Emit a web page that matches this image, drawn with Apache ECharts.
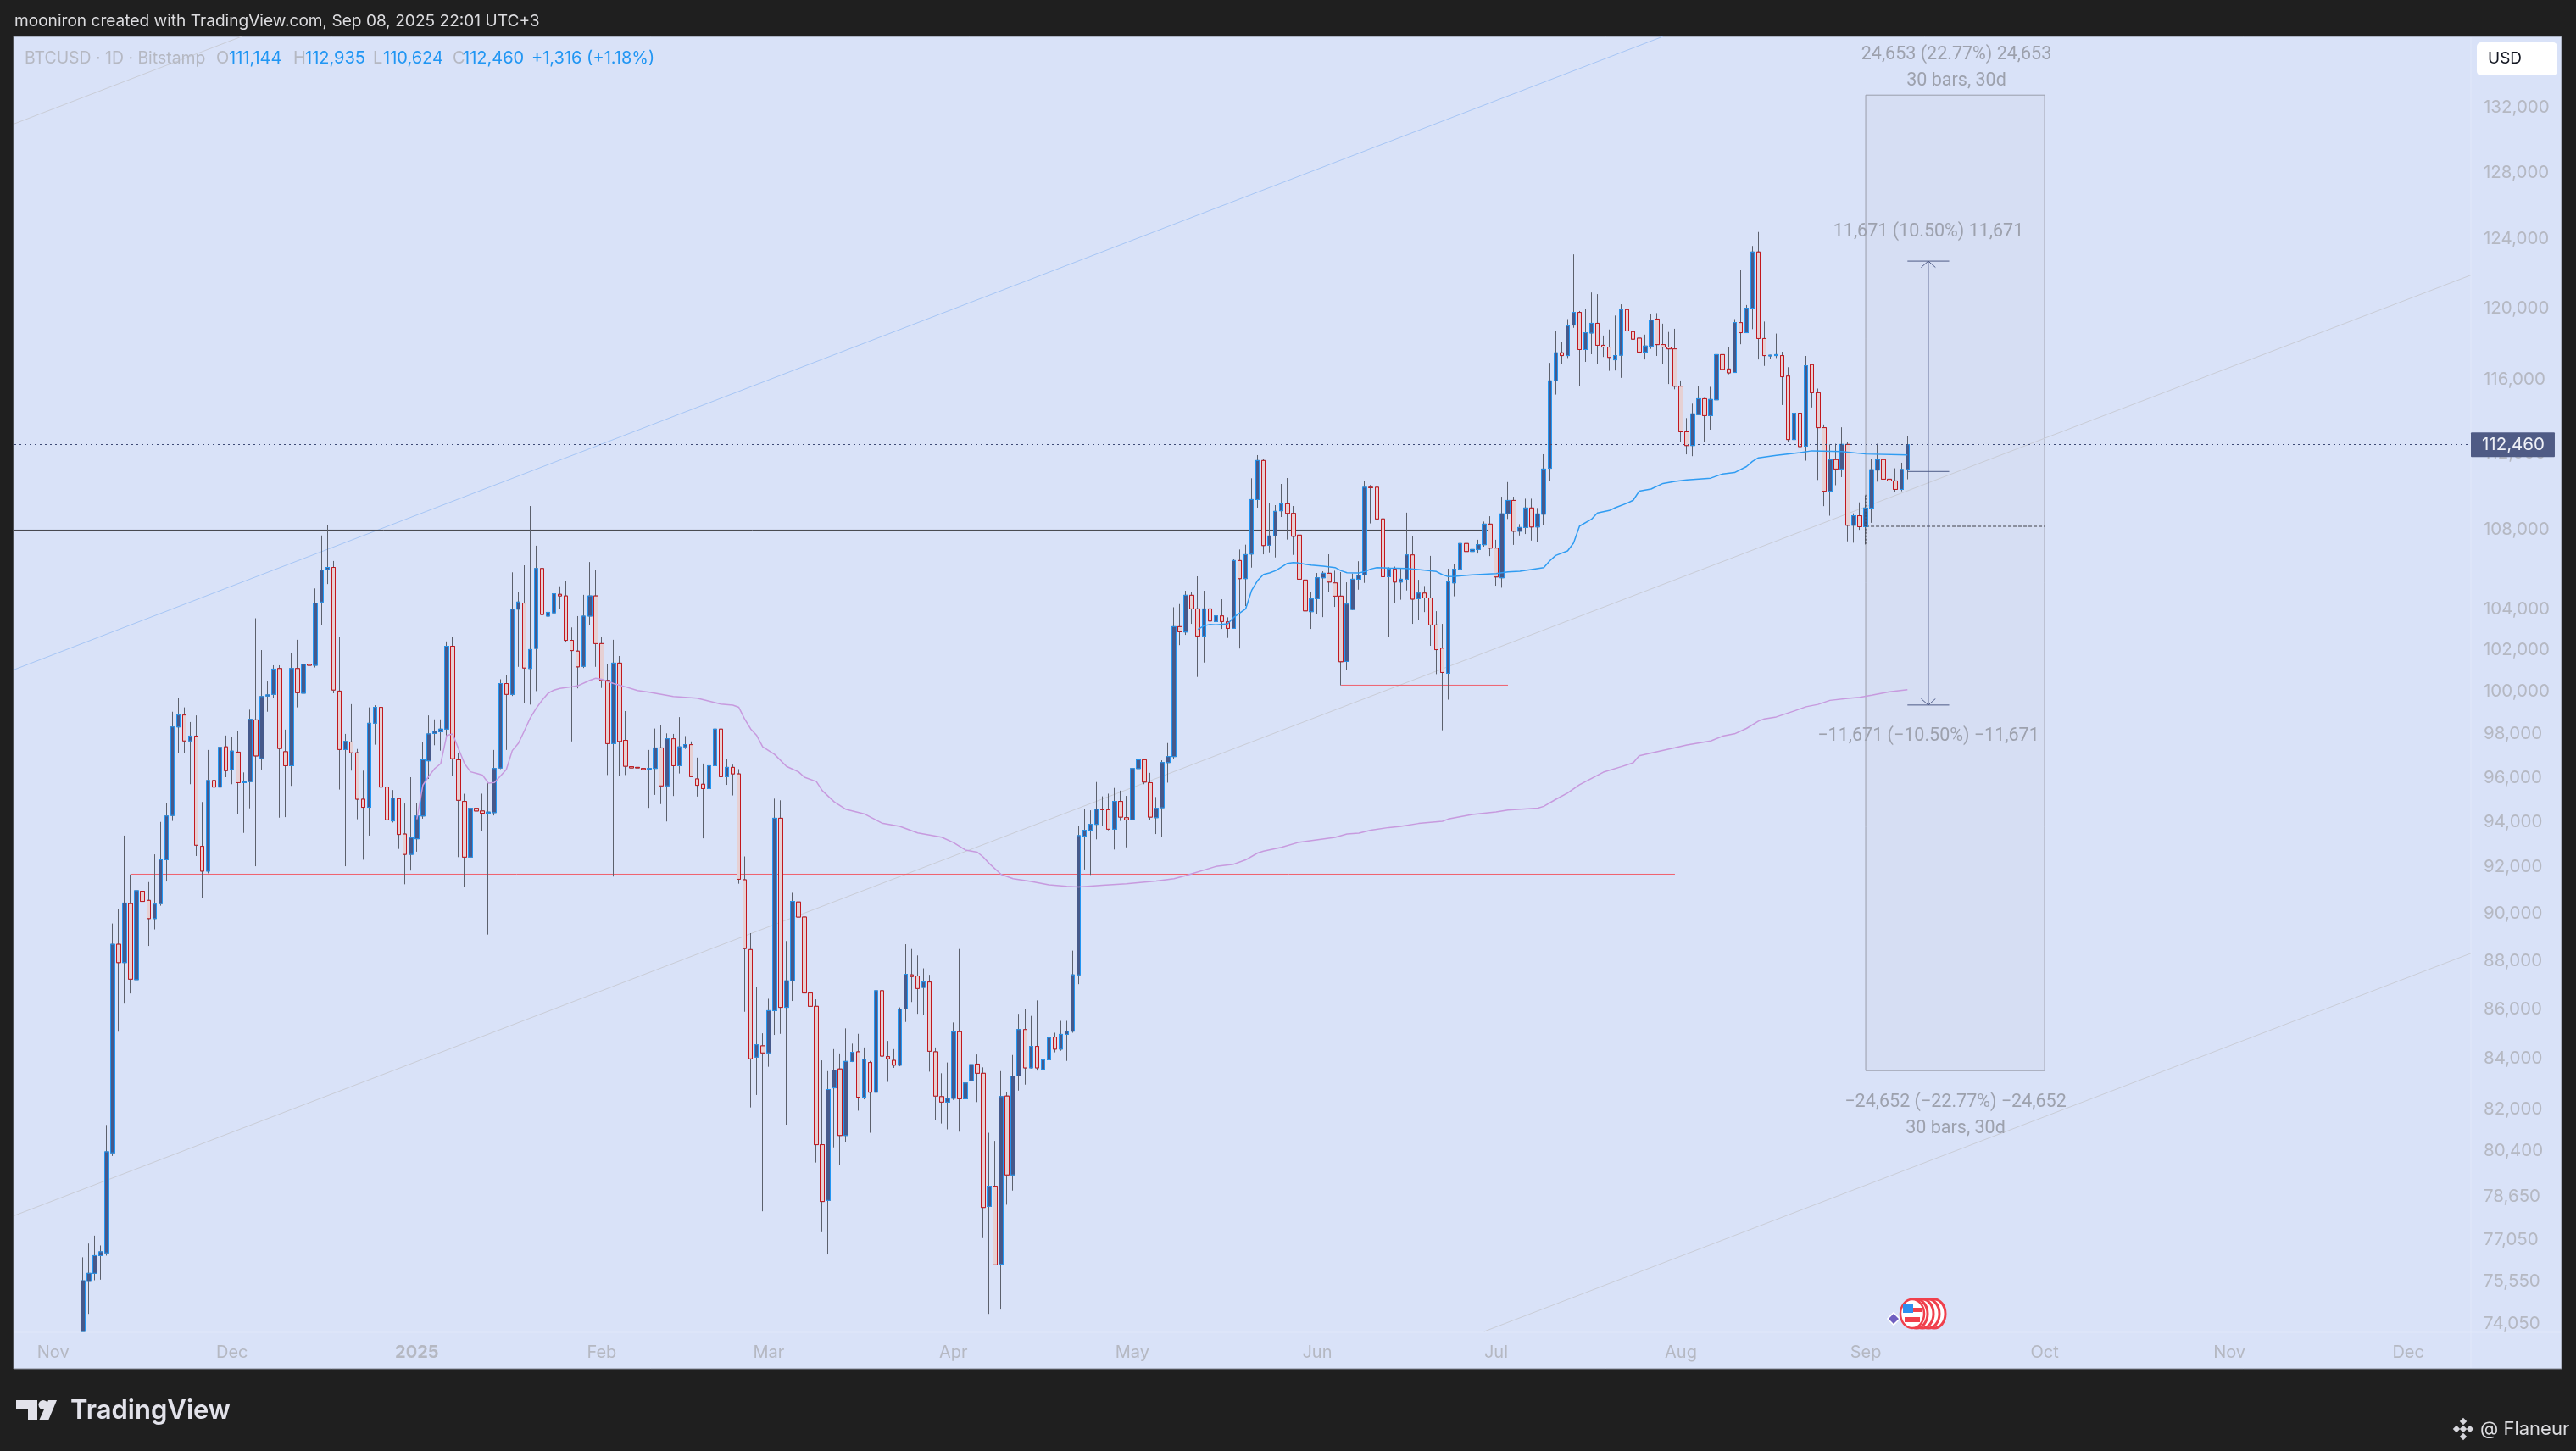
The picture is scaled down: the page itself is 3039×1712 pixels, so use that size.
<!DOCTYPE html>
<html><head><meta charset="utf-8">
<style>html,body{margin:0;padding:0;background:#1f1f1f}#c{width:3039px;height:1712px}</style>
<script src="https://cdn.jsdelivr.net/npm/echarts@6/dist/echarts.min.js"></script>
</head><body><div id="c"></div>
<script>
// rows: open, close, low, high
const nov2024=[[73780,75580,73780,76430],[75560,75850,74400,76930],[75850,76490,75600,77220],[76490,76630,75620,76860],[76590,80360,76490,81390],[80320,88690,80200,89570],[88690,87920,85080,90170],[87920,90446,86222,93390],[90420,87230,86640,91680],[87210,90977,87030,91825],[90955,90515,90030,91680],[90560,89780,88620,91350],[89780,90400,89320,92560],[90420,92325,90330,94000],[92325,94265,91375,94850],[94290,98340,94045,99055],[98340,98900,97140,99720],[98900,97690,97140,99260],[97690,97915,95700,98570],[97915,92965,92490,98880],[92915,91825,90675,94895],[91825,95870,91730,97270],[95870,95570,94610,96570],[95570,97390,95270,98640],[97415,96320,96020,97940]];
const dec2024=[[96370,97220,95700,97870],[97170,95770,94365,98140],[95770,95820,93510,96240],[95820,98695,94610,99150],[98670,96995,92040,103553],[96870,99772,96370,102000],[99800,99850,99055,100490],[99875,101082,99700,101265],[101110,97340,94190,101265],[97190,96545,94215,98215],[96545,101110,95625,101870],[101110,99955,99260,102500],[99930,101320,99150,101845],[101320,101265,100570,102570],[101265,104307,101160,105033],[104357,105951,103240,107712],[105978,106086,105250,108266],[106086,100082,99928,106412],[100030,97291,95458,102632],[97291,97666,92040,98016],[97640,97140,96320,99410],[97140,95020,94120,97316],[95020,94655,92325,96320],[94655,98515,93390,99260],[98515,99260,97516,99360],[99260,95570,95045,99772],[95570,94095,93200,97270],[94045,95070,93975,95435],[95045,93440,92800,95070],[93460,92560,91255,94825],[92560,93300,91850,96020]];
const jan2025=[[93250,94265,92680,94850],[94265,96820,94145,97640],[96770,98016,95944,98880],[98040,98140,97490,98695],[98116,98240,97240,98695],[98240,102186,97890,102420],[102186,96870,96070,102632],[96820,94970,92440,97140],[94920,92440,91139,95265],[92440,94610,92180,95700],[94610,94490,93750,94900],[94490,94390,93580,95270],[94390,94440,89100,95750],[94415,96415,94290,97270],[96440,100390,96390,100595],[100390,99875,97270,100800],[99875,104005,99800,105840],[104005,104357,101190,104845],[104305,101135,99466,106194],[101110,102026,99390,109230],[102080,106030,100030,107187],[106030,103740,103240,106275],[103660,103848,101135,106744],[103821,104767,102660,107048],[104740,104660,104005,105141],[104660,102473,102370,105384],[102473,101977,97666,103106],[101950,101190,100160,103660],[101215,103660,101135,104712],[103660,104660,103240,106360],[104660,102315,101190,105951]];
const feb2025=[[102315,100540,100180,102660],[100540,97566,96120,101320],[97566,101370,91590,102500],[101370,97666,96070,101715],[97716,96520,96120,99085],[96500,96445,95600,99085],[96470,96445,95600,99980],[96420,96370,95650,96770],[96370,96420,94630,97270],[96420,97366,95215,98266],[97366,95625,94800,98416],[95625,97790,94020,98040],[97790,96545,95165,98016],[96545,97415,96190,98800],[97415,97516,97316,97915],[97516,96045,96020,97666],[95944,95650,95140,96920],[95700,95500,93270,96645],[95500,96545,94945,96945],[96545,98240,96390,98695],[98240,96045,94750,99410],[96045,96470,95670,96845],[96470,96170,95190,96595],[96170,91472,91280,96390],[91450,88512,85890,92470],[88467,83993,82071,89160],[84057,84554,82559,86925],[84510,84228,78118,85016]];
const mar2025=[[84228,85936,83672,86420],[85936,94166,84950,95045],[94166,86068,84994,94970],[86068,87162,81400,88827],[87162,90515,86330,90885],[90490,89844,87770,92730],[89844,86660,84664,91185],[86660,86112,85120,86800],[86112,80632,79950,86398],[80632,78483,77346,83929],[78524,82773,76533,83500],[82837,83543,80528,84378],[83586,80984,79847,84207],[80984,83886,80723,85214],[83886,84250,83860,84598],[84271,82473,81945,84994],[82473,83971,82388,84444],[83843,82666,81088,83907],[82666,86754,82537,86925],[86754,84100,83586,87362],[84078,83993,83073,84708],[83929,83736,83629,84378],[83736,86002,83693,86068],[86002,87432,85475,88692],[87410,87340,86288,88490],[87362,86844,85805,88220],[86889,87114,85760,87680],[87114,84292,83479,87410],[84271,82516,81570,84444],[82495,82280,81446,83415],[82280,82430,81220,83843]];
const apr2025=[[82430,85080,82366,85454],[85080,82409,81130,88490],[82409,83030,81170,83843],[83115,83758,83000,84620],[83780,83415,82280,84164],[83415,78260,77130,83650],[78300,79055,74400,81088],[79055,76157,76137,80775],[76177,82495,74553,83500],[82516,79482,78362,82666],[79482,83308,78890,84143],[83308,85166,82730,85805],[85166,83629,82965,86002],[83629,84488,83608,85720],[84488,83629,83522,86354],[83565,83950,83050,85475],[83950,84840,83693,85410],[84862,84378,84250,85038],[84378,84972,84314,85518],[84972,85100,83907,85518],[85100,87410,85038,88422],[87410,93390,87024,93818],[93366,93628,91898,94570],[93628,93890,91662,94520],[93890,94570,93225,95800],[94570,94545,93818,95150],[94545,93676,93628,95270],[93676,94920,92775,95530],[94920,94215,94045,95408],[94190,94095,92870,95170]];
const may2025=[[94095,96415,94045,97366],[96415,96820,96340,97866],[96820,95800,95700,96870],[95770,94215,94095,96220],[94190,94610,93460,95120],[94635,96690,93345,96795],[96690,96965,95770,97590],[96965,103143,96845,104100],[103143,102893,102240,104256],[102880,104692,102740,104917],[104692,104017,103280,104860],[104017,102685,100706,105640],[102685,104017,101397,104917],[104017,103420,102533,104284],[103392,103670,101356,104116],[103670,103392,103030,104495],[103378,103058,102590,103600],[103058,106435,103040,106520],[106435,105524,102075,106995],[105524,106735,104158,107240],[106762,109566,106077,110680],[109566,111618,109144,111905],[111618,107195,106748,111723],[107210,107687,106849,109390],[107687,108953,106590,109275],[108982,109347,108660,110381],[109347,108850,107500,110692],[108850,107670,106720,109230],[107730,105495,105310,108835],[105453,103920,103570,106265],[103880,104510,103030,104875]];
const jun2025=[[104525,105566,103750,105808],[105566,105794,103610,105894],[105794,105353,104860,106750],[105310,104650,104116,105922],[104650,101438,100305,105853],[101452,104256,101057,105339],[103990,105495,103960,105780],[105495,105695,104970,106400],[105710,110208,105310,110550],[110208,110190,108330,110325],[110208,108560,108000,110310],[108560,105620,105600,108570],[105620,106000,102660,106090],[106000,105353,104300,106130],[105353,105495,104470,106065],[105495,106720,104930,108885],[106720,104500,103280,107680],[104525,104800,103460,105465],[104800,104560,103860,105155],[104560,103225,102205,106670],[103225,102020,100840,103905],[102090,100920,98184,103280],[100880,105367,99625,106020],[105310,105995,104640,106240],[105995,107300,105790,108090],[107300,106895,106540,108265],[106895,106995,106280,107680],[106995,107240,106790,107490],[107240,108295,107140,108425],[108295,107065,106660,108700]];
const jul2025=[[107065,105610,105170,107490],[105567,108825,105070,109714],[108825,109520,108560,110480],[109520,107930,107230,109714],[107930,108120,107710,108295],[108120,109128,107785,109610],[109128,108148,107450,109610],[108148,108820,107390,109128],[108805,111167,108265,111950],[111204,115926,110520,116920],[115926,117481,115170,118730],[117481,117325,116880,118095],[117325,119000,117190,119380],[119040,119760,118885,123107],[119760,117660,115615,119840],[117660,118610,116975,119980],[118590,119140,117400,120895],[119140,117900,116860,120800],[117900,117800,117250,118450],[117800,117225,116475,118790],[117090,117325,116495,119580],[117345,119920,116090,120220],[119920,118710,117150,120080],[118670,118245,117110,119440],[118300,117520,114405,118400],[117520,117860,117110,118500],[117840,119320,117700,119680],[119380,117940,117305,119720],[117940,117800,116860,119120],[117800,117700,115750,118650],[117700,115630,115460,118830]];
const aug2025=[[115630,113150,112610,115945],[113150,112415,111945,113890],[112415,114120,111850,114675],[114080,114945,114060,115615],[114945,114025,112610,114985],[114025,114905,113265,115595],[114885,117380,114175,117580],[117380,116560,115810,117580],[116580,116365,116290,117800],[116385,119180,116365,119380],[119180,118610,117960,122225],[118610,120000,118590,120180],[120000,123250,118810,123600],[123250,118280,117110,124425],[118280,117325,116750,119240],[117305,117345,117150,117365],[117325,117380,117190,118560],[117325,116150,114600,117540],[116190,112735,112610,116680],[112735,114155,112285,114500],[114155,112360,111910,114885],[112380,116760,111610,117305],[116820,115270,114465,116880],[115270,113375,110590,115500],[113375,110000,109225,113545],[110000,111666,108725,112475],[111666,111167,110315,112510],[111167,112475,110740,113395],[112475,108235,107410,112610],[108235,108725,107340,108850],[108725,108160,108000,109420]];
const sep2025=[[108160,109125,107250,109765],[109125,111130,108360,111705],[111112,111666,110500,112510],[111666,110630,109240,112135],[110630,110540,110130,113300],[110540,110095,109945,111204],[110095,111144,110000,111500],[111144,112460,110624,112935]];

// sparse vertices of the two moving-average lines: date, value
const ma200=[['2025-01-01',94122],['2025-01-02',95652],['2025-01-03',96069],['2025-01-04',96416],['2025-01-05',96641],['2025-01-06',97941],['2025-01-07',98016],['2025-01-08',97316],['2025-01-09',96641],['2025-01-10',96266],['2025-01-11',96191],['2025-01-12',96116],['2025-01-13',95750],['2025-01-14',95774],['2025-01-15',96069],['2025-01-16',96366],['2025-01-17',97241],['2025-01-18',97566],['2025-01-19',98141],['2025-01-20',98750],['2025-01-21',99211],['2025-01-22',99595],['2025-01-23',99928],['2025-01-24',100081],['2025-01-25',100158],['2025-01-27',100235],['2025-01-28',100286],['2025-01-30',100542],['2025-01-31',100645],['2025-02-01',100593],['2025-02-03',100389],['2025-02-05',100235],['2025-02-07',100056],['2025-02-09',99979],['2025-02-13',99774],['2025-02-17',99698],['2025-02-21',99416],['2025-02-23',99365],['2025-02-24',99262],['2025-02-25',98698],['2025-02-26',98241],['2025-02-27',97941],['2025-02-28',97416],['2025-03-02',97066],['2025-03-04',96516],['2025-03-06',96266],['2025-03-07',96019],['2025-03-09',95822],['2025-03-10',95409],['2025-03-12',94899],['2025-03-14',94558],['2025-03-17',94365],['2025-03-20',93948],['2025-03-23',93802],['2025-03-26',93510],['2025-03-30',93320],['2025-04-01',93083],['2025-04-03',92752],['2025-04-05',92657],['2025-04-06',92443],['2025-04-07',92159],['2025-04-09',91684],['2025-04-11',91497],['2025-04-14',91378],['2025-04-17',91233],['2025-04-20',91163],['2025-04-22',91139],['2025-04-26',91208],['2025-04-30',91278],['2025-05-05',91393],['2025-05-08',91497],['2025-05-10',91639],['2025-05-15',92030],['2025-05-18',92130],['2025-05-20',92320],['2025-05-22',92620],['2025-05-23',92700],['2025-05-26',92870],['2025-05-29',93100],['2025-06-04',93315],['2025-06-06',93465],['2025-06-08',93500],['2025-06-10',93630],['2025-06-13',93750],['2025-06-15',93800],['2025-06-18',93930],['2025-06-22',94030],['2025-06-23',94130],['2025-06-27',94330],['2025-07-01',94450],['2025-07-03',94530],['2025-07-08',94620],['2025-07-09',94700],['2025-07-11',95010],['2025-07-13',95300],['2025-07-15',95680],['2025-07-19',96250],['2025-07-22',96500],['2025-07-24',96677],['2025-07-25',97000],['2025-07-27',97130],['2025-07-31',97370],['2025-08-02',97500],['2025-08-06',97690],['2025-08-08',97910],['2025-08-10',98020],['2025-08-12',98270],['2025-08-14',98610],['2025-08-15',98720],['2025-08-17',98810],['2025-08-20',99090],['2025-08-22',99290],['2025-08-24',99400],['2025-08-26',99590],['2025-08-29',99690],['2025-08-31',99740],['2025-09-02',99840],['2025-09-05',100000],['2025-09-08',100100]];
const ma50=[['2025-05-12',103010],['2025-05-13',103184],['2025-05-14',103253],['2025-05-15',103226],['2025-05-17',103281],['2025-05-18',103600],['2025-05-19',103808],['2025-05-20',104017],['2025-05-21',104931],['2025-05-22',105424],['2025-05-23',105738],['2025-05-24',105809],['2025-05-25',105923],['2025-05-26',106108],['2025-05-27',106293],['2025-05-28',106336],['2025-05-29',106307],['2025-05-30',106250],['2025-05-31',106207],['2025-06-02',106150],['2025-06-04',106079],['2025-06-05',105923],['2025-06-06',105823],['2025-06-08',105809],['2025-06-09',105880],['2025-06-10',106008],['2025-06-11',106079],['2025-06-13',106050],['2025-06-16',106036],['2025-06-19',105951],['2025-06-21',105880],['2025-06-22',105723],['2025-06-23',105624],['2025-06-24',105638],['2025-06-27',105709],['2025-07-01',105780],['2025-07-03',105866],['2025-07-05',105895],['2025-07-09',106079],['2025-07-10',106421],['2025-07-11',106692],['2025-07-13',106921],['2025-07-14',107325],['2025-07-15',108192],['2025-07-17',108543],['2025-07-18',108865],['2025-07-20',108996],['2025-07-21',109143],['2025-07-23',109380],['2025-07-24',109530],['2025-07-25',110000],['2025-07-27',110114],['2025-07-29',110408],['2025-07-31',110520],['2025-08-02',110594],['2025-08-06',110686],['2025-08-08',110910],['2025-08-10',110980],['2025-08-12',111296],['2025-08-13',111574],['2025-08-14',111759],['2025-08-17',111890],['2025-08-21',112040],['2025-08-23',112135],['2025-08-28',112097],['2025-09-01',111966],['2025-09-08',111910]];

// drawings: date/value endpoints
const trendBlue=[['2024-10-26',101060],['2025-07-29',136545]];
const trendGreyTop=[['2024-10-26',130994],['2024-12-03',136600]];
const trendGreyMid=[['2024-10-26',77960],['2025-12-11',121900]];
const trendGreyLow=[['2025-06-29',73780],['2025-12-11',88310]];
const levelBlack=[['2024-10-26',107986],['2025-06-30',107986]];
const levelRedLong=[['2024-11-14',91692],['2025-07-31',91692]];
const levelRedShort=[['2025-06-05',100312],['2025-07-03',100312]];
const lastPrice=112460;
const boxStart='2025-09-01', boxEnd='2025-10-01';
const boxBase=108180, boxTop=132790, boxBottom=83520;
const rangeBase=111037, rangeTop=122715, rangeBottom=99370;
const rangeLeft='2025-09-08', rangeRight='2025-09-15';

const priceTicks=[132000,128000,124000,120000,116000,112000,108000,104000,102000,100000,98000,96000,94000,92000,90000,88000,86000,84000,82000,80400,78650,77050,75550,74050];
const monthNames=['Jan','Feb','Mar','Apr','May','Jun','Jul','Aug','Sep','Oct','Nov','Dec'];
const firstDay=Date.UTC(2024,9,26), dayCount=412;
const priceMin=73750, priceMax=136545;

const dates=[];
for(let i=0;i<dayCount;i++) dates.push(new Date(firstDay+i*864e5).toISOString().slice(0,10));
const idx=d=>dates.indexOf(d);
const rows=[].concat(nov2024,dec2024,jan2025,feb2025,mar2025,apr2025,may2025,jun2025,jul2025,aug2025,sep2025);
const pad=new Array(idx('2024-11-06')).fill('-');
const wickData=pad.concat(rows);
const bodyData=pad.concat(rows.map(r=>[r[0],r[1],Math.min(r[0],r[1]),Math.max(r[0],r[1])]));
const toXY=list=>list.map(p=>{const i=idx(p[0]);return [i===0?-0.5:i===dayCount-1?dayCount-0.5:i,p[1]];});

const C={bg:'#1f1f1f',pane:'#d9e2f8',grid:'#e1e8fa',label:'#b5b8c2',note:'#9da1ad',dark:'#4d5a86',dot:'#3d4a75',wick:'#5c606c',
 upFill:'#46598b',upEdge:'#2196f3',dnFill:'#e6d0d3',dnEdge:'#c2171d',ma50:'#2f9cf2',ma200:'#c79ade',red:'#f0606e',black:'#404148',grey:'#c9ccd6',blueLine:'#a6c5f4'};
const uiFont='Inter, Roboto, sans-serif';

function seg(data,color,width,type,z,extra){
 return Object.assign({type:'line',xAxisIndex:1,yAxisIndex:0,data:data,symbol:'none',silent:true,z:z||3,
  lineStyle:{color:color,width:width||1,type:type||'solid'},itemStyle:{color:color},clip:true},extra||{});
}
const rL=idx(rangeLeft),rR=idx(rangeRight),rM=(rL+rR)/2;

function text(t,x,y,color,size,align,extra){
 return {type:'text',x:x,y:y,z:100,silent:true,style:Object.assign({text:t,fill:color,font:(size||20)+'px '+uiFont,textAlign:align||'left',textVerticalAlign:'middle'},extra||{})};
}
const legend=[['BTCUSD · 1D · Bitstamp',29,C.label],['O',255,C.label],['111,144',270,C.upEdge],['H',346,C.label],['112,935',360,C.upEdge],['L',440,C.label],['110,624',452,C.upEdge],['C',534,C.label],['112,460',546,C.upEdge],['+1,316 (+1.18%)',627,C.upEdge]];
const notes=[['24,653 (22.77%) 24,653',2308,65],['30 bars, 30d',2308,96],['11,671 (10.50%) 11,671',2275,274],['−11,671 (−10.50%) −11,671',2275,869],['−24,652 (−22.77%) −24,652',2307,1301],['30 bars, 30d',2307,1332]];

const graphics=[
 {type:'rect',z:-10,silent:true,shape:{x:16,y:43,width:3006,height:1572},style:{fill:C.pane,stroke:'#80848f',lineWidth:1}},
 {type:'line',z:-9,silent:true,shape:{x1:2915,y1:44,x2:2915,y2:1614},style:{stroke:C.grid,lineWidth:1}},
 {type:'line',z:-9,silent:true,shape:{x1:17,y1:1572,x2:3021,y2:1572},style:{stroke:C.grid,lineWidth:1}},
 text('mooniron created with TradingView.com, Sep 08, 2025 22:01 UTC+3',17,25,'#dcdcdf',19.1),
 {type:'rect',z:100,silent:true,shape:{x:2922,y:50,width:95,height:39,r:5},style:{fill:'#ffffff'}},
 text('USD',2935,69,'#131722',19),
 {type:'text',x:83,y:1665,z:100,silent:true,style:{text:'TradingView',fill:'#e2e2ea',font:'600 31px '+uiFont,textAlign:'left',textVerticalAlign:'middle'}},
 {type:'polygon',z:100,silent:true,shape:{points:[[19,1652],[44,1652],[44,1676],[33,1676],[33,1663],[19,1663]]},style:{fill:'#e2e2ea'}},
 {type:'circle',z:100,silent:true,shape:{cx:51,cy:1657.5,r:5.5},style:{fill:'#e2e2ea'}},
 {type:'polygon',z:100,silent:true,shape:{points:[[57,1652],[67,1652],[57,1676],[46,1676]]},style:{fill:'#e2e2ea'}},
 text('@ Flaneur',2926,1686,'#dcdcdf',22)
];
[[2906,1677],[2898,1686],[2914,1686],[2906,1695],[2906,1686]].forEach(p=>{
 graphics.push({type:'rect',z:100,silent:true,x:p[0],y:p[1],rotation:Math.PI/4,shape:{x:-3,y:-3,width:6,height:6},style:{fill:'#d6d6dc'}});
});
legend.forEach((l,i)=>graphics.push(text(l[0],l[1],69,l[2],i===0?19.4:20)));
notes.forEach(n=>graphics.push(text(n[0],n[1],n[2],C.note,21.5,'center',{font:'21.5px Roboto, sans-serif'})));
// event flag
[2282,2275,2268,2261].forEach(cx=>graphics.push({type:'ellipse',z:101,silent:true,shape:{cx:cx,cy:1550,rx:13,ry:17},style:{fill:'#ffffff',stroke:'#f0404c',lineWidth:3}}));
graphics.push({type:'ellipse',z:102,silent:true,shape:{cx:2256,cy:1550,rx:14,ry:17},style:{fill:'#ffffff',stroke:'#f0404c',lineWidth:2.5}});
graphics.push({type:'rect',z:103,silent:true,shape:{x:2245,y:1538,width:12,height:11},style:{fill:'#2f8ff0'}});
graphics.push({type:'rect',z:103,silent:true,shape:{x:2257,y:1543,width:11,height:5},style:{fill:'#f0404c'}});
graphics.push({type:'rect',z:103,silent:true,shape:{x:2247,y:1554,width:18,height:6},style:{fill:'#f0404c'}});
graphics.push({type:'rect',z:104,silent:true,x:2234,y:1556,rotation:Math.PI/4,shape:{x:-5,y:-5,width:10,height:10},style:{fill:'#6f5fc0',stroke:'#ffffff',lineWidth:1.5}});

const option={
 animation:false,backgroundColor:C.bg,
 grid:{left:17,top:43,width:2898,height:1529,containLabel:false},
 xAxis:[
  {type:'category',data:dates,boundaryGap:true,axisLine:{show:false},axisTick:{show:false},splitLine:{show:false},
   axisLabel:{color:C.label,fontFamily:uiFont,fontSize:20,margin:14,interval:(i,v)=>v.slice(8)==='01',hideOverlap:false,
    formatter:(v)=>{const m=+v.slice(5,7);return m===1?'{y|'+v.slice(0,4)+'}':monthNames[m-1];},
    rich:{y:{fontWeight:'bold',fontSize:20,color:C.label,fontFamily:uiFont}}}},
  {type:'value',min:-0.5,max:dayCount-0.5,show:false,splitLine:{show:false}}
 ],
 yAxis:{type:'log',position:'right',min:priceMin,max:priceMax,axisLine:{show:false},axisTick:{show:false},splitLine:{show:false},minorSplitLine:{show:false},
  axisLabel:{customValues:priceTicks,color:C.label,fontFamily:uiFont,fontSize:20.5,margin:15,align:'left',padding:[4,0,0,0],showMinLabel:true,showMaxLabel:true,hideOverlap:false,
   formatter:v=>Number(v).toLocaleString('en-US')}},
 graphic:{elements:graphics},
 series:[
  seg(toXY([[boxStart,boxBase],[boxEnd,boxBase]]),C.black,1,[4,2],3,{
    markArea:{silent:true,z:1,itemStyle:{color:'rgba(130,120,125,0.035)',opacity:1,borderColor:'#9a9daa',borderWidth:1},
     data:[[{coord:[idx(boxStart),boxTop]},{coord:[idx(boxEnd),boxBottom]}]]}}),
  seg(toXY(trendBlue),C.blueLine,1),
  seg(toXY(trendGreyTop),C.grey,1),
  seg(toXY(trendGreyMid),C.grey,1),
  seg(toXY(trendGreyLow),C.grey,1),
  seg(toXY(levelBlack),C.black,1),
  seg(toXY(levelRedLong),C.red,1),
  seg(toXY(levelRedShort),C.red,1),
  {type:'candlestick',xAxisIndex:0,yAxisIndex:0,data:wickData,barWidth:5,z:4,silent:true,
   itemStyle:{color:C.wick,color0:C.wick,borderColor:C.wick,borderColor0:C.wick,borderWidth:1}},
  {type:'candlestick',xAxisIndex:0,yAxisIndex:0,data:bodyData,barWidth:5,z:5,silent:true,
   itemStyle:{color:C.upFill,color0:C.dnFill,borderColor:C.upEdge,borderColor0:C.dnEdge,borderWidth:1}},
  seg(toXY(ma200),C.ma200,1.5,'solid',6),
  seg(toXY(ma50),C.ma50,1.5,'solid',6),
  seg(toXY([['2025-09-01',109816],['2025-09-01',107195]]),C.black,1,[2,2],7),
  seg([[rM,rangeTop],[rM,rangeBottom]],C.dark,1,'solid',7),
  seg([[rL,rangeTop],[rR,rangeTop]],C.dark,1,'solid',7),
  seg([[rL,rangeBottom],[rR,rangeBottom]],C.dark,1,'solid',7),
  seg([[rL,rangeBase],[rR,rangeBase]],C.dark,1,'solid',7),
  seg([[rM-1.2,rangeTop*0.997],[rM,rangeTop],[rM+1.2,rangeTop*0.997]],C.dark,1,'solid',7),
  seg([[rM-1.2,rangeBottom*1.003],[rM,rangeBottom],[rM+1.2,rangeBottom*1.003]],C.dark,1,'solid',7),
  seg([],C.dot,1,[2,4],7,{
    markLine:{silent:true,symbol:'none',z:20,lineStyle:{color:C.dot,width:1,type:[2,4]},
     label:{show:true,position:'end',distance:0,formatter:'112,460',color:'#eef0f6',backgroundColor:'#4f5b85',fontFamily:uiFont,fontSize:20.5,padding:[4,12,4,13],borderRadius:1},
     data:[{yAxis:lastPrice}]}})
 ]
};
const chart=echarts.init(document.getElementById('c'),null,{renderer:'canvas'});
chart.setOption(option);
</script></body></html>
